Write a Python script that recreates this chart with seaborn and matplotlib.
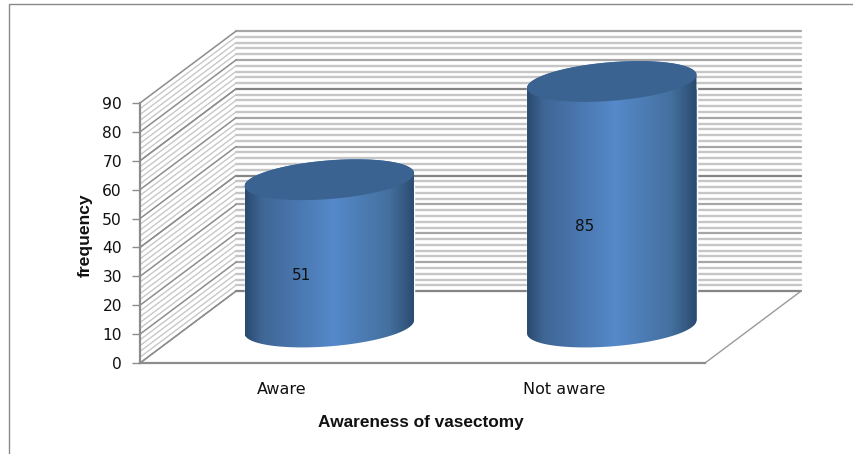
import numpy as np
import pandas as pd
import matplotlib
matplotlib.use('Agg')
import matplotlib.pyplot as plt
import seaborn as sns
from matplotlib.colors import LinearSegmentedColormap
from matplotlib.lines import Line2D
from matplotlib.patches import PathPatch, Polygon
from matplotlib.path import Path

categories = ['Aware', 'Not aware']
frequency = [51, 85]
y_ticks = [0, 10, 20, 30, 40, 50, 60, 70, 80, 90]
strong_grid = [0, 40, 70]
minor_grid = list(range(0, 91, 2))

depth_x, depth_y = 0.34, 24.9
half_depth_x, half_depth_y = depth_x / 2, depth_y / 2
grey = '#8c8c8c'

sns.set_theme(style='white')
plt.rcParams['font.family'] = ['DejaVu Sans']

fig = plt.figure(figsize=(8.54, 4.54), dpi=100)
ax = fig.add_axes([140 / 854, 1 - 363 / 454, 565 / 854, 260 / 454])

df = pd.DataFrame({'awareness': categories, 'frequency': frequency})
sns.barplot(df, x='awareness', y='frequency', width=0.6, color='#4f81bd', saturation=1, ax=ax, zorder=3)

x0, x1 = -0.5, 1.5
ax.set_xlim(x0, x1)
ax.set_ylim(0, 90)
sns.despine(ax=ax)


# back wall and side wall grid, drawn in data units outside the front plane
def wall_line(y, color, lw, side_color=None):
    ax.plot([x0 + depth_x, x1 + depth_x], [y + depth_y, y + depth_y], color=color, lw=lw, clip_on=False, zorder=1)
    ax.plot([x0, x0 + depth_x], [y, y + depth_y], color=side_color or color, lw=1, clip_on=False, zorder=1)


for y in minor_grid:
    wall_line(y, '#c6c6c6', 1.7, '#c8c8c8')
for y in y_ticks:
    wall_line(y, '#a6a6a6', 1.4, '#8e8e8e')
for y in strong_grid:
    wall_line(y, '#858585', 1.5, '#8e8e8e')

# floor edge on the right
ax.plot([x1, x1 + depth_x], [0, depth_y], color='#9a9a9a', lw=1, clip_on=False, zorder=1)

shade = LinearSegmentedColormap.from_list('cyl', [(0, '#2a4a6f'), (0.1, '#3f6695'), (0.52, '#5589ca'),
                                                  (0.85, '#44709f'), (1, '#2a4a6e')])
gradient = np.linspace(0, 1, 256).reshape(1, -1)
top_color = '#3b6391'
b, k = 6.7, 2.25


def arc(cx, cy, a, t0, t1):
    t = np.linspace(t0, t1, 80)
    return np.column_stack([cx + a * np.cos(t), cy + b * np.sin(t) + k * np.cos(t)])


for bar, value in zip(ax.patches, frequency):
    # push bar to the middle of the floor depth
    bar.set_x(bar.get_x() + half_depth_x)
    cx = bar.get_x() + bar.get_width() / 2
    a = bar.get_width() / 2
    y_low = half_depth_y
    y_high = half_depth_y + bar.get_height()
    # flat corners must stay inside the rounded outline
    bar.set_y(y_low + k)
    bar.set_height(y_high - y_low - 2 * k)
    bar.set_clip_on(False)

    body = np.vstack([arc(cx, y_low, a, np.pi, 2 * np.pi), arc(cx, y_high, a, 0, np.pi)])
    clip = PathPatch(Path(np.vstack([body, body[0]])), transform=ax.transData)
    im = ax.imshow(gradient, cmap=shade, extent=(cx - a, cx + a, y_low - 10, y_high + 10),
                   aspect='auto', zorder=4)
    im.set_clip_box(fig.bbox)
    im.set_clip_path(clip)

    ax.add_patch(Polygon(arc(cx, y_high, a, 0, 2 * np.pi), closed=True, fc=top_color, ec='none',
                         clip_on=False, zorder=5))
    ax.text(cx - 0.097, value / 2 + half_depth_y - 7.6, str(value), ha='center', va='center',
            fontsize=11, color='#101010', zorder=6)

ax.set_xlim(x0, x1)
ax.set_ylim(0, 90)

ax.set_yticks(y_ticks)
for side in ('left', 'bottom'):
    ax.spines[side].set_color(grey)
    ax.spines[side].set_linewidth(1.6)
    ax.spines[side].set_zorder(2)
ax.tick_params(axis='y', length=6, width=1, color=grey, labelsize=11.2, pad=7, left=True, labelcolor='#111111')
ax.tick_params(axis='x', length=0, labelsize=11.5, pad=14, labelcolor='#111111')
ax.set_xlabel('Awareness of vasectomy', fontsize=12.4, fontweight='bold', family='Liberation Sans', color='#111111')
ax.set_ylabel('frequency', fontsize=12.6, fontweight='bold', family='Liberation Sans', color='#111111')
ax.xaxis.set_label_coords(0.4965, -0.2)
ax.yaxis.set_label_coords(-0.084, 0.492)

# outer chart frame, open on the right and at the bottom
fig.add_artist(Line2D([9 / 854, 9 / 854, 1], [0, 1 - 4 / 454, 1 - 4 / 454], color='#8a8a8a', lw=1))

plt.savefig('out.png', dpi=100)
